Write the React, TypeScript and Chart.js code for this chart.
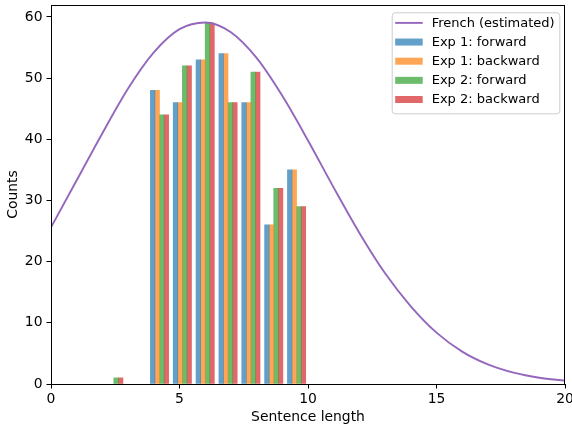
import React, { useEffect, useRef } from "react";
import { Chart, registerables } from "chart.js";

Chart.register(...registerables);

// Histogram bins (range 2..10, 9 bins)
const binStart = 2;
const binEnd = 10;
const binCount = 9;

const seriesLabels = ["Exp 1: forward", "Exp 1: backward", "Exp 2: forward", "Exp 2: backward"];
const exp1Forward = [0, 0, 48, 46, 53, 54, 46, 26, 35];
const exp1Backward = [0, 0, 48, 46, 53, 54, 46, 26, 35];
const exp2Forward = [1, 0, 44, 52, 59, 46, 51, 32, 29];
const exp2Backward = [1, 0, 44, 52, 59, 46, 51, 32, 29];

const curveLabel = "French (estimated)";
const curveX = [0, 1, 2, 3, 4, 5, 6, 7, 8, 9, 10, 11, 12, 13, 14, 15, 16, 17, 18, 19, 20];
const curveY = [25.6, 33.3, 41.0, 48.3, 54.2, 58.0, 59.1, 57.5, 53.3, 47.1, 39.8, 32.1, 24.7, 18.1, 12.7, 8.4, 5.3, 3.2, 1.85, 1.02, 0.55];

const xTicks = [0, 5, 10, 15, 20];
const yTicks = [0, 10, 20, 30, 40, 50, 60];

const barColors = [
  "rgba(31,119,180,0.7)",
  "rgba(255,127,14,0.7)",
  "rgba(44,160,44,0.7)",
  "rgba(214,39,40,0.7)",
];
const lineColor = "#9467bd";
const FONT = "DejaVu Sans";
const FS = 13.9;
const LEGEND_FS = 13;

const framePlugin = {
  id: "frameAndLegend",
  afterDraw(chart: any) {
    const { ctx, chartArea } = chart;
    ctx.save();
    // axes frame
    ctx.strokeStyle = "#000";
    ctx.lineWidth = 1;
    ctx.strokeRect(
      Math.round(chartArea.left) + 0.5,
      Math.round(chartArea.top) + 0.5,
      Math.round(chartArea.right - chartArea.left) - 1,
      Math.round(chartArea.bottom - chartArea.top)
    );
    // legend
    const bw = 167.6;
    const bh = 101;
    const bx = chartArea.right - 5.7 - bw;
    const by = chartArea.top + 7.3;
    ctx.beginPath();
    (ctx as any).roundRect(bx + 0.5, by + 0.5, bw, bh, 3);
    ctx.fillStyle = "rgba(255,255,255,0.8)";
    ctx.fill();
    ctx.strokeStyle = "#cccccc";
    ctx.lineWidth = 1;
    ctx.stroke();
    const ds = chart.data.datasets;
    ctx.font = `${LEGEND_FS}px "${FONT}"`;
    ctx.textBaseline = "middle";
    ctx.textAlign = "left";
    for (let i = 0; i < ds.length; i++) {
      const cy = by + 10.6 + i * 19.15;
      const hx = bx + 3.5;
      if (ds[i].type === "line") {
        ctx.strokeStyle = ds[i].borderColor;
        ctx.lineWidth = 1.9;
        ctx.beginPath();
        ctx.moveTo(hx, cy);
        ctx.lineTo(hx + 27.5, cy);
        ctx.stroke();
      } else {
        ctx.fillStyle = ds[i].backgroundColor;
        ctx.fillRect(hx, cy - 3.5, 27.5, 7);
      }
      ctx.fillStyle = "#000";
      ctx.fillText(ds[i].label, bx + 40, cy + 0.5);
    }
    ctx.restore();
  },
};

export default function App() {
  const ref = useRef<HTMLCanvasElement | null>(null);
  useEffect(() => {
    document.body.style.margin = "0";
    if (!ref.current) return;
    const binW = (binEnd - binStart) / binCount;
    const barW = (0.8 * binW) / 4;
    const series = [exp1Forward, exp1Backward, exp2Forward, exp2Backward];
    const barSets = series.map((vals, j) => ({
      type: "bar" as const,
      label: seriesLabels[j],
      data: vals.map((v, i) => ({
        x: binStart + (i + 0.5) * binW + (j - 1.5) * barW,
        y: v === 0 ? null : v,
      })),
      backgroundColor: barColors[j],
      borderWidth: 0,
      grouped: false,
      barPercentage: 1,
      categoryPercentage: 1,
    }));
    const lineSet = {
      type: "line" as const,
      label: curveLabel,
      data: curveX.map((x, i) => ({ x, y: curveY[i] })),
      borderColor: lineColor,
      borderWidth: 1.9,
      pointRadius: 0,
      fill: false,
      cubicInterpolationMode: "monotone" as const,
    };
    const chart = new Chart(ref.current, {
      type: "bar",
      data: { datasets: [lineSet as any, ...barSets] },
      options: {
        animation: false,
        responsive: false,
        devicePixelRatio: 1,
        layout: { padding: { top: 5, right: 7, left: 0, bottom: 0 } },
        plugins: { legend: { display: false }, tooltip: { enabled: false } },
        font: { family: FONT, size: FS },
        scales: {
          x: {
            type: "linear",
            min: 0,
            max: 20,
            offset: false,
            border: { display: false },
            grid: { display: true, drawOnChartArea: false, drawTicks: true, tickLength: 4.5, color: "#000", offset: false },
            ticks: { stepSize: 5, color: "#000", padding: 3, font: { family: FONT, size: FS }, maxRotation: 0 },
            afterBuildTicks: (s: any) => {
              s.ticks = xTicks.map((v) => ({ value: v }));
            },
            title: { display: true, text: "Sentence length", color: "#000", font: { family: FONT, size: FS }, padding: { top: 0, bottom: -0.5 } },
            afterFit: (s: any) => {
              s.height = 41;
              s.paddingLeft = 0;
              s.paddingRight = 0;
            },
          } as any,
          y: {
            type: "linear",
            min: 0,
            max: 61.95,
            border: { display: false },
            grid: { display: true, drawOnChartArea: false, drawTicks: true, tickLength: 4.5, color: "#000" },
            ticks: { stepSize: 10, color: "#000", padding: 4, font: { family: FONT, size: FS }, includeBounds: false },
            afterBuildTicks: (s: any) => {
              s.ticks = yTicks.map((v) => ({ value: v }));
            },
            title: { display: true, text: "Counts", color: "#000", font: { family: FONT, size: FS }, padding: { top: 5, bottom: 0 } },
            afterFit: (s: any) => {
              s.width = 51;
              s.paddingTop = 0;
              s.paddingBottom = 0;
            },
          } as any,
        },
      },
      plugins: [framePlugin],
    });
    return () => chart.destroy();
  }, []);
  return (
    <div style={{ width: 572, height: 425 }}>
      <canvas ref={ref} width={572} height={425} style={{ display: "block" }} />
    </div>
  );
}
